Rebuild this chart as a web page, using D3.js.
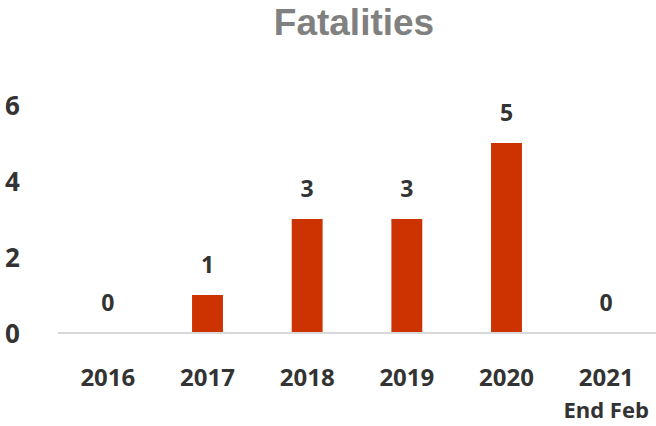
<!DOCTYPE html>
<html>
<head>
<meta charset="utf-8">
<script src="https://cdn.jsdelivr.net/npm/d3@7"></script>
<style>
  body { margin: 0; background: #fff; }
  text { font-family: "Open Sans", "Liberation Sans", sans-serif; font-weight: bold; }
</style>
</head>
<body>
<div id="vis"></div>
<script>
var years = ['2016', '2017', '2018', '2019', '2020', '2021'];
var subLabels = ['', '', '', '', '', 'End Feb'];
var fatalities = [0, 1, 3, 3, 5, 0];
var yTicks = [0, 2, 4, 6];

var width = 656;
var height = 426;

var svg = d3.select('#vis')
    .append('svg')
    .attr('width', width)
    .attr('height', height);

var x = d3.scaleBand()
    .domain(years)
    .range([58, 656])
    .paddingInner(0.69)
    .paddingOuter(0.345);

var y = d3.scaleLinear()
    .domain([0, 6])
    .range([333, 105]);

// title
svg.append('text')
    .attr('x', 354)
    .attr('y', 35)
    .attr('text-anchor', 'middle')
    .attr('fill', '#808080')
    .style('font-family', '"Liberation Sans", Arial, sans-serif')
    .style('font-size', '37px')
    .text('Fatalities');

// y tick labels, no axis line
svg.selectAll('.ytick')
    .data(yTicks)
    .enter().append('text')
    .attr('class', 'ytick')
    .attr('x', 5)
    .attr('y', (d) => y(d) + 10)
    .attr('fill', '#333')
    .style('font-size', '26px')
    .text((d) => d);

// bars
svg.selectAll('.bar')
    .data(fatalities)
    .enter().append('rect')
    .attr('class', 'bar')
    .attr('x', (d, i) => x(years[i]))
    .attr('width', x.bandwidth())
    .attr('y', (d) => y(d))
    .attr('height', (d) => y(0) - y(d))
    .attr('fill', '#cc3300');

// baseline
svg.append('line')
    .attr('x1', 58)
    .attr('x2', 656)
    .attr('y1', y(0))
    .attr('y2', y(0))
    .attr('stroke', '#d9d9d9')
    .attr('stroke-width', 2);

// data labels
svg.selectAll('.val')
    .data(fatalities)
    .enter().append('text')
    .attr('class', 'val')
    .attr('x', (d, i) => x(years[i]) + x.bandwidth() / 2)
    .attr('y', (d) => y(d) - 22)
    .attr('text-anchor', 'middle')
    .attr('fill', '#333')
    .style('font-size', '23px')
    .text((d) => d);

// category labels
svg.selectAll('.xlab')
    .data(years)
    .enter().append('text')
    .attr('class', 'xlab')
    .attr('x', (d) => x(d) + x.bandwidth() / 2)
    .attr('y', 386)
    .attr('text-anchor', 'middle')
    .attr('fill', '#333')
    .style('font-size', '24px')
    .text((d) => d);

svg.selectAll('.xsub')
    .data(subLabels)
    .enter().append('text')
    .attr('class', 'xsub')
    .attr('x', (d, i) => x(years[i]) + x.bandwidth() / 2)
    .attr('y', 418)
    .attr('text-anchor', 'middle')
    .attr('fill', '#333')
    .style('font-size', '22px')
    .text((d) => d);
</script>
</body>
</html>
